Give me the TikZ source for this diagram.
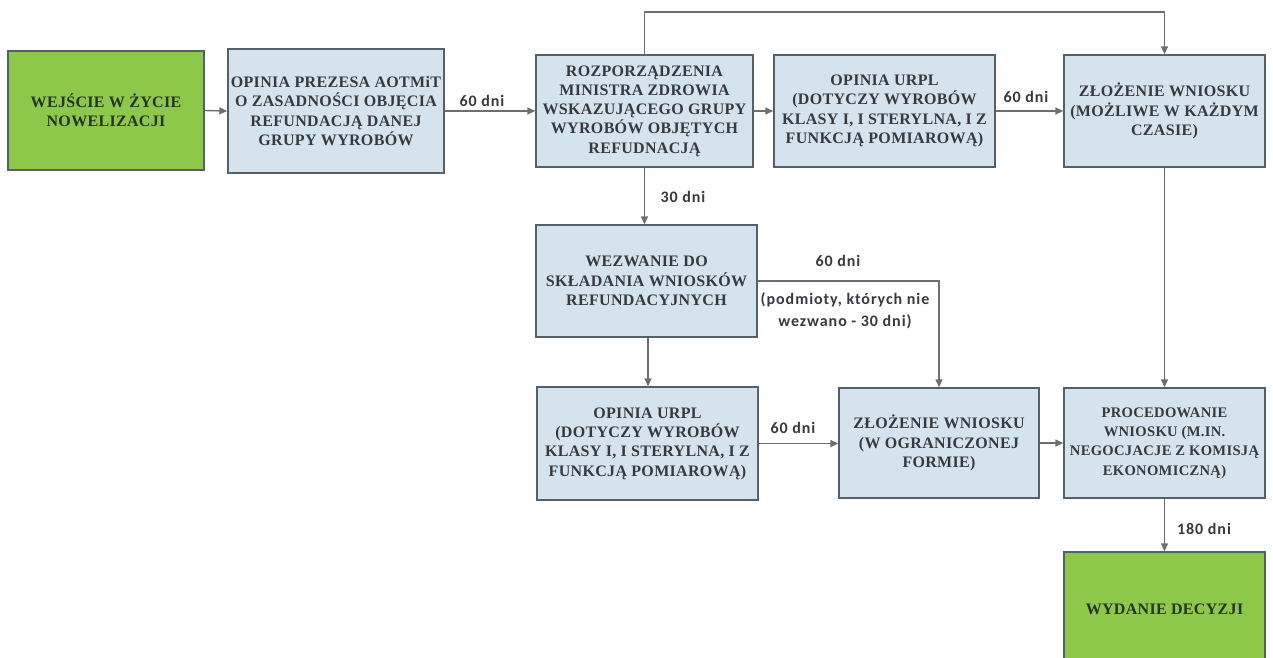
\documentclass[tikz,border=0pt]{standalone}
\usepackage{fontspec}
\setmainfont{Liberation Serif}[LetterSpace=2]
\newfontfamily\lblfont[LetterSpace=6]{Carlito}
\usetikzlibrary{arrows.meta}
\definecolor{boxblue}{HTML}{D5E3EE}
\definecolor{boxgreen}{HTML}{8DC84A}
\definecolor{edgegray}{HTML}{56606A}
\definecolor{arrgray}{HTML}{6E6E6E}
\definecolor{txtgray}{HTML}{363A3E}
\definecolor{txtgreen}{HTML}{26351A}
\tikzset{
  x=1pt, y=-1pt,
  box/.style={draw=edgegray, line width=1.4pt, fill=boxblue, align=center,
    font=\fontsize{16}{19.3}\selectfont\bfseries, text=txtgray, inner sep=0pt},
  gbox/.style={box, fill=boxgreen, text=txtgreen},
  arr/.style={draw=arrgray, line width=1.4pt, -{Triangle[length=8pt,width=7pt]}},
  lbl/.style={font=\lblfont\fontsize{16}{22}\selectfont\bfseries, text=txtgray, inner sep=0pt, align=center}
}
\begin{document}
\begin{tikzpicture}
\useasboundingbox (0,0) rectangle (1273,657);
\clip (0,0) rectangle (1273,657);
\node[gbox, minimum width=196pt, minimum height=119pt] (b1) at (106,110.5) {WEJŚCIE W ŻYCIE\\NOWELIZACJI};
\node[box, minimum width=216pt, minimum height=124pt] (b2) at (336,111) {OPINIA PREZESA AOTMiT\\O ZASADNOŚCI OBJĘCIA\\REFUNDACJĄ DANEJ\\GRUPY WYROBÓW};
\node[box, minimum width=217pt, minimum height=112pt] (b3) at (644.5,111) {ROZPORZĄDZENIA\\MINISTRA ZDROWIA\\WSKAZUJĄCEGO GRUPY\\WYROBÓW OBJĘTYCH\\REFUDNACJĄ};
\node[box, minimum width=221pt, minimum height=112pt] (b4) at (884.5,111) {OPINIA URPL\\(DOTYCZY WYROBÓW\\KLASY I, I STERYLNA, I Z\\FUNKCJĄ POMIAROWĄ)};
\node[box, minimum width=201pt, minimum height=112pt] (b5) at (1164.5,111) {ZŁOŻENIE WNIOSKU\\(MOŻLIWE W KAŻDYM\\CZASIE)};
\node[box, minimum width=221pt, minimum height=112pt] (b6) at (646.5,281) {WEZWANIE DO\\SKŁADANIA WNIOSKÓW\\REFUNDACYJNYCH};
\node[box, minimum width=221pt, minimum height=113pt] (b7) at (647.5,443.5) {OPINIA URPL\\(DOTYCZY WYROBÓW\\KLASY I, I STERYLNA, I Z\\FUNKCJĄ POMIAROWĄ)};
\node[box, minimum width=200pt, minimum height=110pt] (b8) at (939,443) {ZŁOŻENIE WNIOSKU\\(W OGRANICZONEJ\\FORMIE)};
\node[box, minimum width=201pt, minimum height=110pt, font=\fontsize{14.6}{19.3}\selectfont\bfseries] (b9) at (1164.5,443) {PROCEDOWANIE\\WNIOSKU (M.IN.\\NEGOCJACJE Z KOMISJĄ\\EKONOMICZNĄ)};
\node[gbox, minimum width=201pt, minimum height=118pt] (b10) at (1164.5,611) {\raisebox{3pt}{WYDANIE DECYZJI}};
\coordinate (top) at (0,12);
\draw[arr] (b1.east) -- (b2.west);
\draw[arr] (b2.east) -- (b3.west);
\draw[arr] (b3.east) -- (b4.west);
\draw[arr] (b4.east) -- (b5.west);
\draw[arr] (b3.north) -- (b3.north |- top) -| (b5.north);
\draw[arr] (b3.south) -- (b3.south |- b6.north);
\draw[arr] (b6.east) -| (b8.north);
\draw[arr] ([xshift=1.5pt]b6.south) -- ([xshift=1.5pt]b6.south |- b7.north);
\draw[arr] (b7.east) -- (b7.east -| b8.west);
\draw[arr] (b8.east) -- (b9.west);
\draw[arr] (b5.south) -- (b9.north);
\draw[arr] (b9.south) -- (b10.north);
\node[lbl] (l1) at (482,101) {60 dni};
\node[lbl] (l2) at (1026,97) {60 dni};
\node[lbl] (l3) at (683,197) {30 dni};
\node[lbl] (l4) at (838,261) {60 dni};
\node[lbl] (l5) at (845,311) {(podmioty, których nie\\wezwano - 30 dni)};
\node[lbl] (l6) at (793,428) {60 dni};
\node[lbl] (l7) at (1204,529) {180 dni};
\end{tikzpicture}
\end{document}
